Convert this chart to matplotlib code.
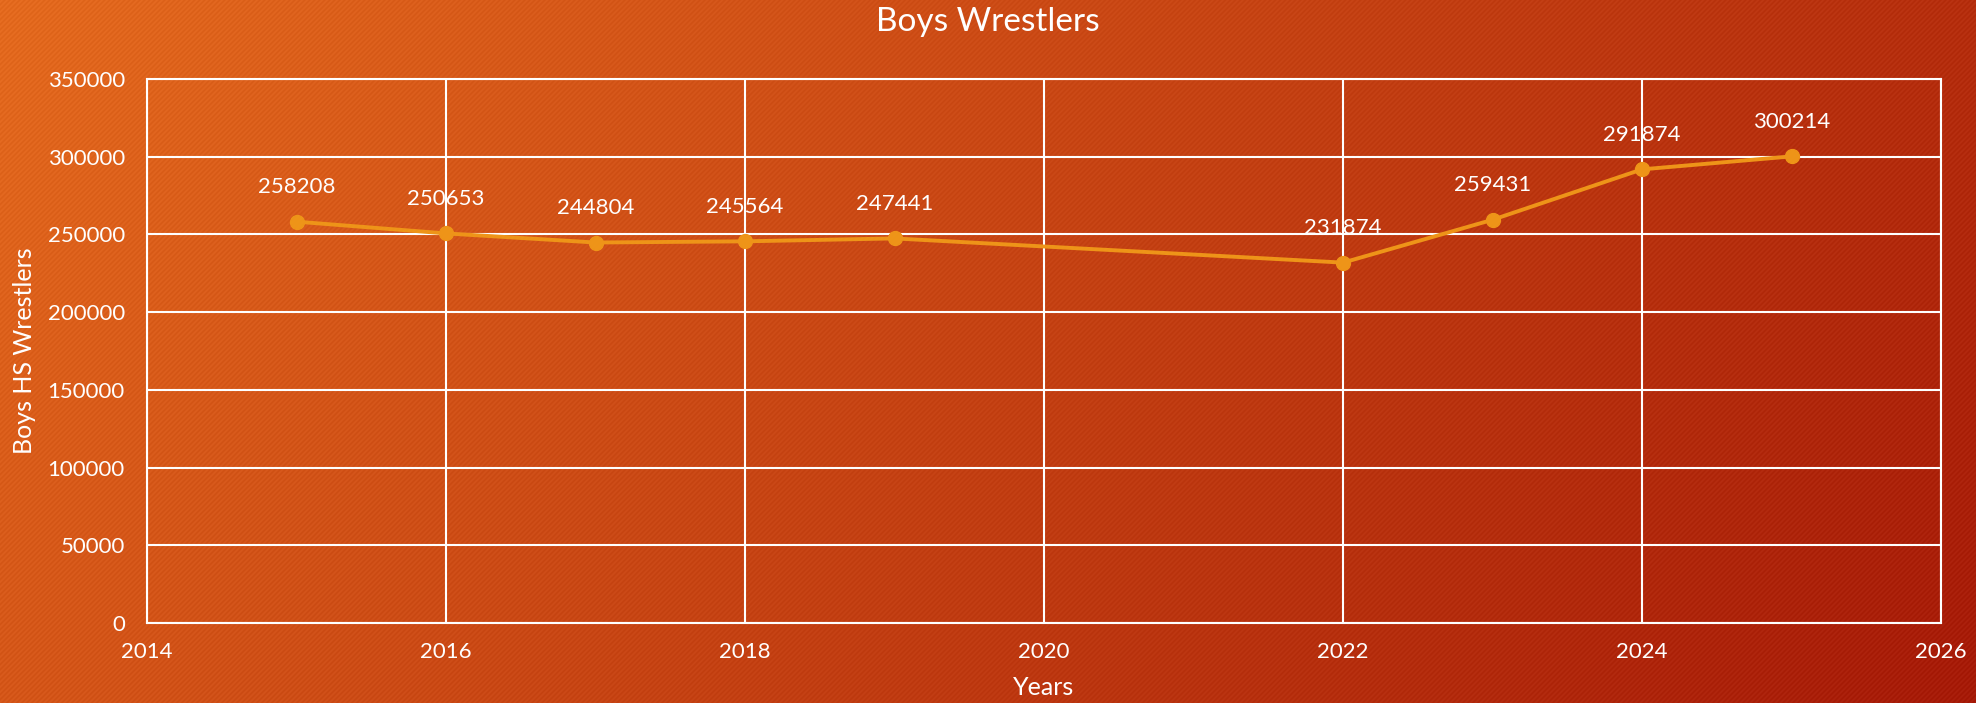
import matplotlib
matplotlib.use("Agg")
import matplotlib.pyplot as plt
import numpy as np

plt.rcParams['font.family'] = ['Lato', 'DejaVu Sans']

years = [2015, 2016, 2017, 2018, 2019, 2022, 2023, 2024, 2025]
wrestlers = [258208, 250653, 244804, 245564, 247441, 231874, 259431, 291874, 300214]

W, H = 1976, 703
fig = plt.figure(figsize=(W / 100, H / 100), dpi=100)

# background: diagonal gradient with fine "///" stripes
bg = fig.add_axes([0, 0, 1, 1])
yy, xx = np.mgrid[0:H, 0:W]
t = (xx / W * 0.75 + yy / H * 0.25)
c0 = np.array([228, 106, 30]) / 255
c1 = np.array([166, 26, 8]) / 255
img = c0[None, None, :] * (1 - t[..., None]) + c1[None, None, :] * t[..., None]
stripes = 0.018 * np.sin(2 * np.pi * (xx + yy) / 5.0)
img = np.clip(img + stripes[..., None], 0, 1)
bg.imshow(img, aspect='auto', extent=[0, 1, 0, 1])
bg.axis('off')

ax = fig.add_axes([0.0744, 0.1138, 0.9079, 0.7738])
ax.set_facecolor('none')
ax.plot(years, wrestlers, color='#EE9418', lw=2.8, marker='o', markersize=10, zorder=3)
for x, y in zip(years, wrestlers):
    ax.annotate(str(y), (x, y), xytext=(0, 25), textcoords='offset points',
                ha='center', va='center', color='white', fontsize=16)

ax.set_xlim(2014, 2026)
ax.set_ylim(0, 350000)
ax.set_xticks(range(2014, 2027, 2))
ax.set_yticks(range(0, 350001, 50000))
ax.grid(True, color='white', lw=1.5)
ax.set_axisbelow(True)
for s in ax.spines.values():
    s.set_color('white')
    s.set_linewidth(1.5)
ax.tick_params(length=0, colors='white', labelsize=16)
ax.tick_params(axis='y', pad=16)
ax.tick_params(axis='x', pad=14)

ax.set_xlabel('Years', color='white', fontsize=18, labelpad=10)
ax.set_ylabel('Boys HS Wrestlers', color='white', fontsize=18, labelpad=8)
fig.text(0.5, 0.968, 'Boys Wrestlers', color='white', fontsize=24, ha='center', va='center')

fig.savefig('out.png', dpi=100)
